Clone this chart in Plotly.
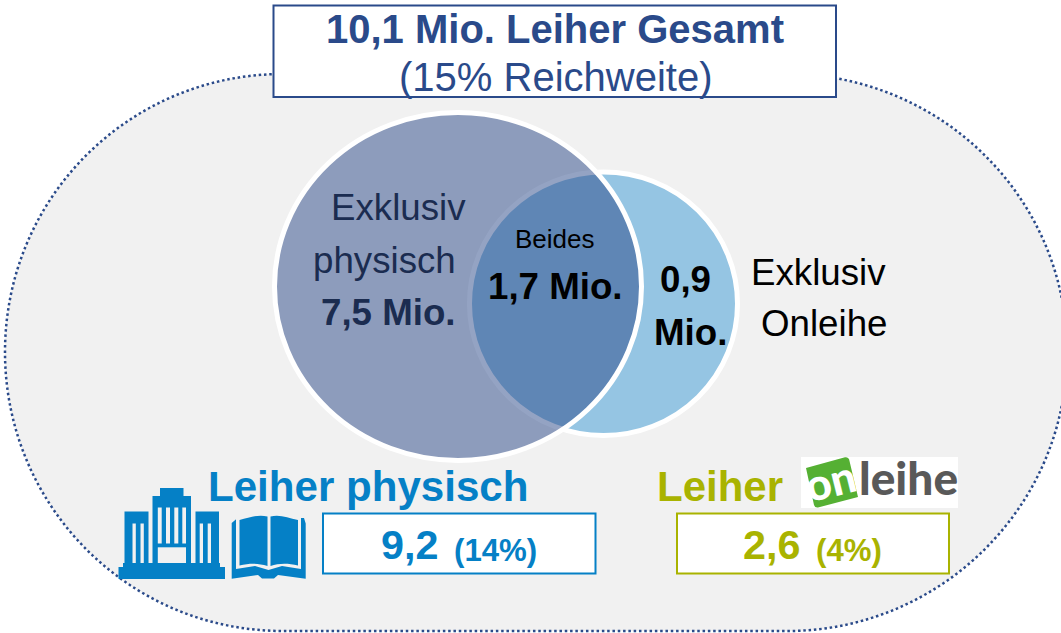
import plotly.graph_objects as go

# ---- chart values and labels -------------------------------------------
total_title = "10,1 Mio. Leiher Gesamt"
total_reach = "(15% Reichweite)"
venn_physical_label = ["Exklusiv", "physisch"]
venn_both_label = "Beides"
venn_online_label = ["Exklusiv", "Onleihe"]
venn_values = ["7,5 Mio.", "1,7 Mio."]
venn_online_value = ["0,9", "Mio."]
group_titles = ["Leiher physisch", "Leiher"]
group_values = ["9,2", "2,6"]
group_shares = ["(14%)", "(4%)"]
logo_parts = ["on", "leihe"]

# ---- styles -------------------------------------------------------------
NAVY = "#2A4A8A"
BLUE = "#0580C6"
OLIVE = "#A9B300"
GREY = "#F1F1F1"
DARK = "#1B2C50"
FONT = "Liberation Sans, Arial, sans-serif"
LOGO = "Lato, Liberation Sans, sans-serif"

shapes = []


def add(**k):
    k.setdefault("xref", "x")
    k.setdefault("yref", "y")
    shapes.append(k)


def rect(x0, y0, x1, y1, fill, line=None, w=0):
    add(type="rect", x0=x0, y0=y0, x1=x1, y1=y1, fillcolor=fill,
        line=dict(color=line or fill, width=w))


def poly(path, fill):
    add(type="path", path=path, fillcolor=fill, line=dict(width=0))


# dotted stadium background
add(type="path",
    path="M 283 74 L 787 74 C 941 74 1067 198 1067 352 C 1067 506 941 631 787 631 "
         "L 283 631 C 129 631 5 506 5 352 C 5 198 129 74 283 74 Z",
    fillcolor=GREY, line=dict(color=NAVY, width=2.5, dash="2.5px,2.8px"))

# header box
rect(273.5, 5.5, 836, 97, "white", NAVY, 2)

# venn circles
add(type="circle", x0=469.5, x1=737.5, y0=172, y1=435.5, fillcolor="#95C5E3",
    line=dict(color="white", width=5))
add(type="circle", x0=274.5, x1=641.5, y0=112.5, y1=460.5,
    fillcolor="rgba(41,71,135,0.5)", line=dict(color="white", width=5))

# value boxes
rect(323, 513.5, 595.5, 573.5, "white", BLUE, 2)
rect(677, 513.5, 949, 573.5, "white", OLIVE, 2)

# library building icon
rect(118.5, 567, 225, 579, BLUE)
rect(123, 563, 220, 568, BLUE)
rect(124.5, 511.5, 148.5, 564, BLUE)
rect(152.5, 496, 191, 564, BLUE)
rect(160, 488, 183.5, 497, BLUE)
rect(195.5, 511.5, 219, 564, BLUE)
for a, b in [(132.5, 135.8), (140.5, 143.8), (199.7, 203), (207.7, 211)]:
    rect(a, 523.5, b, 563, GREY)
for a, b in [(157.8, 161.7), (166, 170), (174.3, 178.3), (182.3, 186)]:
    rect(a, 507.5, b, 543.5, GREY)
rect(157.8, 547.3, 186, 563, GREY)

# open book icon
poly("M 231.7 523 L 237.5 518 L 304 518 L 305.7 523.5 L 305.7 578.7 L 278 575 "
     "L 274 578.5 L 262 578.5 L 258 575 L 231.7 578.7 Z", BLUE)
poly("M 236 518 L 236 569 L 255 566 L 268.5 570 L 282 566 L 301 569 L 301 518 Z", GREY)
poly("M 239.5 520 C 250 517.5 258 514 267.5 516.5 L 267.5 566 C 258 563 250 563 239.5 565.5 Z", BLUE)
poly("M 270.5 516.5 C 279 514 288 517.5 298 520 L 298 565.5 C 288 563 279 563 270.5 566 Z", BLUE)

# onleihe logo
rect(801, 457, 958, 508, "white")
poly("M 806 468 L 845 457.3 Q 849 457 849.5 461 L 858 497 L 818 507.5 Q 815 508 814 505 Z", "#55B033")

annotations = []


def text(x, y, s, size, color, bold=False, angle=0, family=FONT, weight=None):
    font = dict(family=family, size=size, color=color)
    if weight:
        font["weight"] = weight
    annotations.append(dict(
        x=x, y=y, xref="x", yref="y",
        text=f"<b>{s}</b>" if (bold and not weight) else s,
        showarrow=False, xanchor="center", yanchor="middle", align="center",
        textangle=angle, font=font))


text(555, 29, total_title, 40, NAVY, True)
text(555, 77, total_reach, 40, NAVY)

text(398.5, 207, venn_physical_label[0], 36.7, DARK)
text(384, 260, venn_physical_label[1], 36.7, DARK)
text(388, 312, venn_values[0], 36.7, DARK, True)
text(555, 239, venn_both_label, 26, "#000000")
text(555.5, 286, venn_values[1], 36.7, "#000000", True)
text(685.5, 279, venn_online_value[0], 36.7, "#000000", True)
text(690.5, 332, venn_online_value[1], 36.7, "#000000", True)
text(818.5, 272, venn_online_label[0], 36.7, "#000000")
text(823.5, 323, venn_online_label[1], 36.7, "#000000")

text(368, 486, group_titles[0], 42.1, BLUE, True)
text(720, 486, group_titles[1], 42, OLIVE, True)
text(409.5, 545, group_values[0], 41.3, BLUE, True)
text(495.5, 550, group_shares[0], 31.2, BLUE, True)
text(771.5, 545, group_values[1], 41.3, OLIVE, True)
text(849, 550, group_shares[1], 31.2, OLIVE, True)

text(830, 480, logo_parts[0], 44, "white", False, -14, LOGO, 900)
text(908, 477, logo_parts[1], 46, "#595959", False, 0, LOGO, 900)

fig = go.Figure()
fig.update_layout(
    width=1061, height=633,
    margin=dict(l=0, r=0, t=0, b=0),
    paper_bgcolor="white", plot_bgcolor="white",
    showlegend=False,
    xaxis=dict(range=[0, 1061], visible=False, fixedrange=True),
    yaxis=dict(range=[633, 0], visible=False, fixedrange=True),
    shapes=shapes, annotations=annotations,
)
fig.write_html("out.html", config={"displayModeBar": False},
               post_script="document.body.style.margin='0';document.documentElement.style.overflow='hidden';")
